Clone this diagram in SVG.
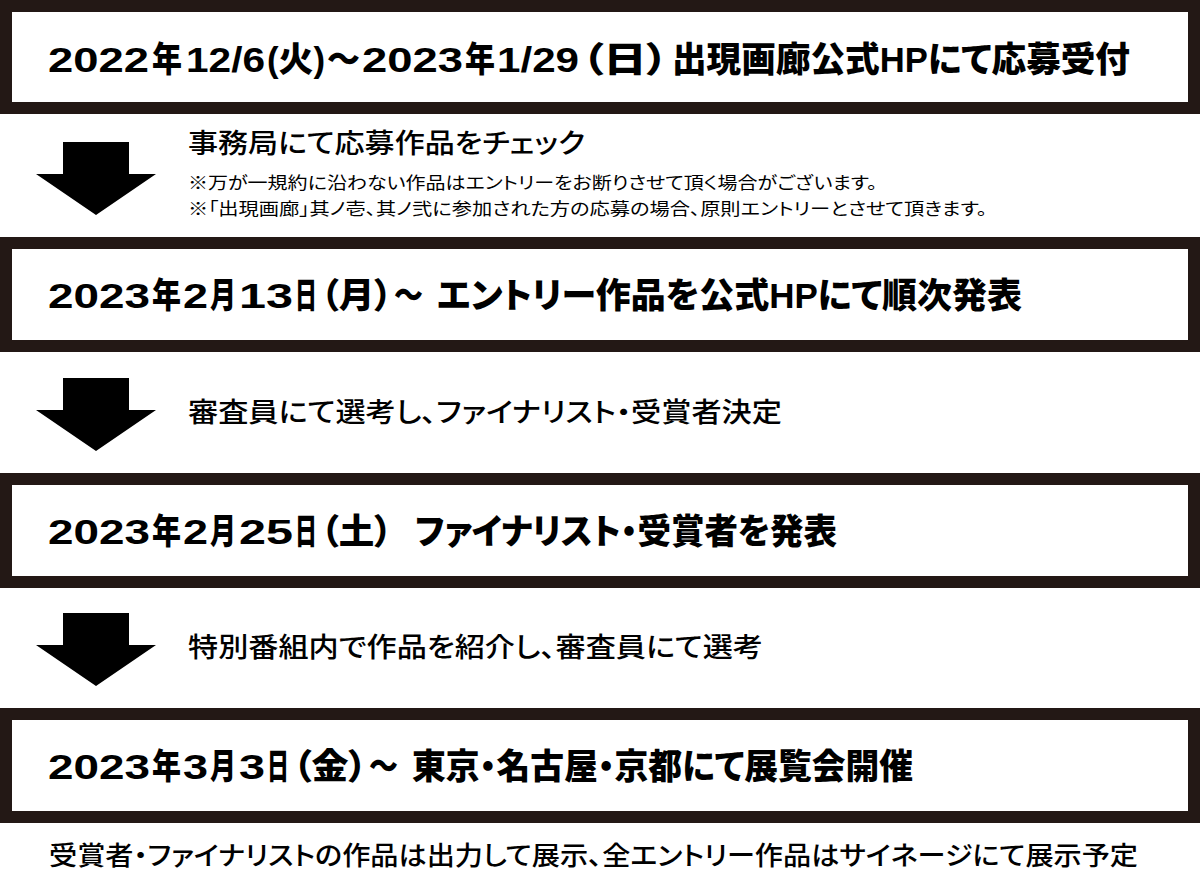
<svg xmlns="http://www.w3.org/2000/svg" width="1200" height="893" viewBox="0 0 1200 893">
<style>
.box{fill:#ffffff;stroke:#231815;stroke-width:12}
.arrow{fill:#000000}
.title{font-family:"Liberation Sans","Noto Sans CJK JP",sans-serif;font-weight:900;font-size:35px;fill:#000000;font-feature-settings:"palt"}
.step{font-family:"Noto Sans CJK JP",sans-serif;font-weight:500;font-size:27px;fill:#000000;font-feature-settings:"palt"}
.note{font-family:"Noto Sans CJK JP",sans-serif;font-size:17px;fill:#000000;font-feature-settings:"palt"}
.foot{font-family:"Noto Sans CJK JP",sans-serif;font-weight:500;font-size:26px;fill:#000000;font-feature-settings:"palt"}
</style>
<rect width="1200" height="893" fill="#ffffff"/>
<g id="step1">
<rect class="box" x="6" y="6" width="1188" height="102"/>
<text class="title" y="72"><tspan x="48" textLength="101" lengthAdjust="spacingAndGlyphs">2022</tspan><tspan x="152" textLength="30" lengthAdjust="spacingAndGlyphs">年</tspan><tspan x="186" textLength="79" lengthAdjust="spacingAndGlyphs">12/6</tspan><tspan x="267" textLength="58" lengthAdjust="spacingAndGlyphs">(火)</tspan><tspan x="327" textLength="33" lengthAdjust="spacingAndGlyphs">～</tspan><tspan x="362" textLength="101" lengthAdjust="spacingAndGlyphs">2023</tspan><tspan x="465" textLength="30" lengthAdjust="spacingAndGlyphs">年</tspan><tspan x="497" textLength="82" lengthAdjust="spacingAndGlyphs">1/29</tspan><tspan x="582" textLength="86" lengthAdjust="spacingAndGlyphs">（日）</tspan><tspan x="672" textLength="458" lengthAdjust="spacingAndGlyphs">出現画廊公式HPにて応募受付</tspan></text>
</g>
<g id="step2">
<rect class="box" x="6" y="243" width="1188" height="103"/>
<text class="title" y="308"><tspan x="48" textLength="102" lengthAdjust="spacingAndGlyphs">2023</tspan><tspan x="152" textLength="29" lengthAdjust="spacingAndGlyphs">年</tspan><tspan x="183" textLength="25" lengthAdjust="spacingAndGlyphs">2</tspan><tspan x="210" textLength="26" lengthAdjust="spacingAndGlyphs">月</tspan><tspan x="239" textLength="54" lengthAdjust="spacingAndGlyphs">13</tspan><tspan x="295" textLength="22" lengthAdjust="spacingAndGlyphs">日</tspan><tspan x="321" textLength="71" lengthAdjust="spacingAndGlyphs">（月）</tspan><tspan x="394" textLength="29" lengthAdjust="spacingAndGlyphs">～</tspan><tspan x="437" textLength="585" lengthAdjust="spacingAndGlyphs">エントリー作品を公式HPにて順次発表</tspan></text>
</g>
<g id="step3">
<rect class="box" x="6" y="479" width="1188" height="103"/>
<text class="title" y="544"><tspan x="48" textLength="102" lengthAdjust="spacingAndGlyphs">2023</tspan><tspan x="152" textLength="29" lengthAdjust="spacingAndGlyphs">年</tspan><tspan x="183" textLength="25" lengthAdjust="spacingAndGlyphs">2</tspan><tspan x="210" textLength="26" lengthAdjust="spacingAndGlyphs">月</tspan><tspan x="239" textLength="54" lengthAdjust="spacingAndGlyphs">25</tspan><tspan x="295" textLength="22" lengthAdjust="spacingAndGlyphs">日</tspan><tspan x="321" textLength="71" lengthAdjust="spacingAndGlyphs">（土）</tspan><tspan x="415" textLength="422" lengthAdjust="spacingAndGlyphs">ファイナリスト・受賞者を発表</tspan></text>
</g>
<g id="step4">
<rect class="box" x="6" y="714" width="1188" height="103"/>
<text class="title" y="779"><tspan x="48" textLength="102" lengthAdjust="spacingAndGlyphs">2023</tspan><tspan x="152" textLength="29" lengthAdjust="spacingAndGlyphs">年</tspan><tspan x="183" textLength="25" lengthAdjust="spacingAndGlyphs">3</tspan><tspan x="210" textLength="26" lengthAdjust="spacingAndGlyphs">月</tspan><tspan x="239" textLength="26" lengthAdjust="spacingAndGlyphs">3</tspan><tspan x="267" textLength="22" lengthAdjust="spacingAndGlyphs">日</tspan><tspan x="293" textLength="74" lengthAdjust="spacingAndGlyphs">（金）</tspan><tspan x="369" textLength="29" lengthAdjust="spacingAndGlyphs">～</tspan><tspan x="412" textLength="501" lengthAdjust="spacingAndGlyphs">東京・名古屋・京都にて展覧会開催</tspan></text>
</g>
<g id="connectors">
<polygon class="arrow" points="63,142 129,142 129,174 156,174 96,215 36,174 63,174"/>
<polygon class="arrow" points="63,378 129,378 129,410 156,410 96,451 36,410 63,410"/>
<polygon class="arrow" points="63,613 129,613 129,645 156,645 96,686 36,645 63,645"/>
</g>
<g id="label1">
<text class="step" x="188" y="153" textLength="397" lengthAdjust="spacingAndGlyphs">事務局にて応募作品をチェック</text>
<text class="note" x="188" y="189" textLength="689" lengthAdjust="spacingAndGlyphs">※万が一規約に沿わない作品はエントリーをお断りさせて頂く場合がございます。</text>
<text class="note" x="188" y="215" textLength="799" lengthAdjust="spacingAndGlyphs">※「出現画廊」其ノ壱、其ノ弐に参加された方の応募の場合、原則エントリーとさせて頂きます。</text>
</g>
<g id="label2">
<text class="step" x="188" y="422" textLength="594" lengthAdjust="spacingAndGlyphs">審査員にて選考し、ファイナリスト・受賞者決定</text>
</g>
<g id="label3">
<text class="step" x="188" y="657" textLength="575" lengthAdjust="spacingAndGlyphs">特別番組内で作品を紹介し、審査員にて選考</text>
</g>
<g id="footnote">
<text class="foot" x="49" y="865" textLength="1089" lengthAdjust="spacingAndGlyphs">受賞者・ファイナリストの作品は出力して展示、全エントリー作品はサイネージにて展示予定</text>
</g>
</svg>
